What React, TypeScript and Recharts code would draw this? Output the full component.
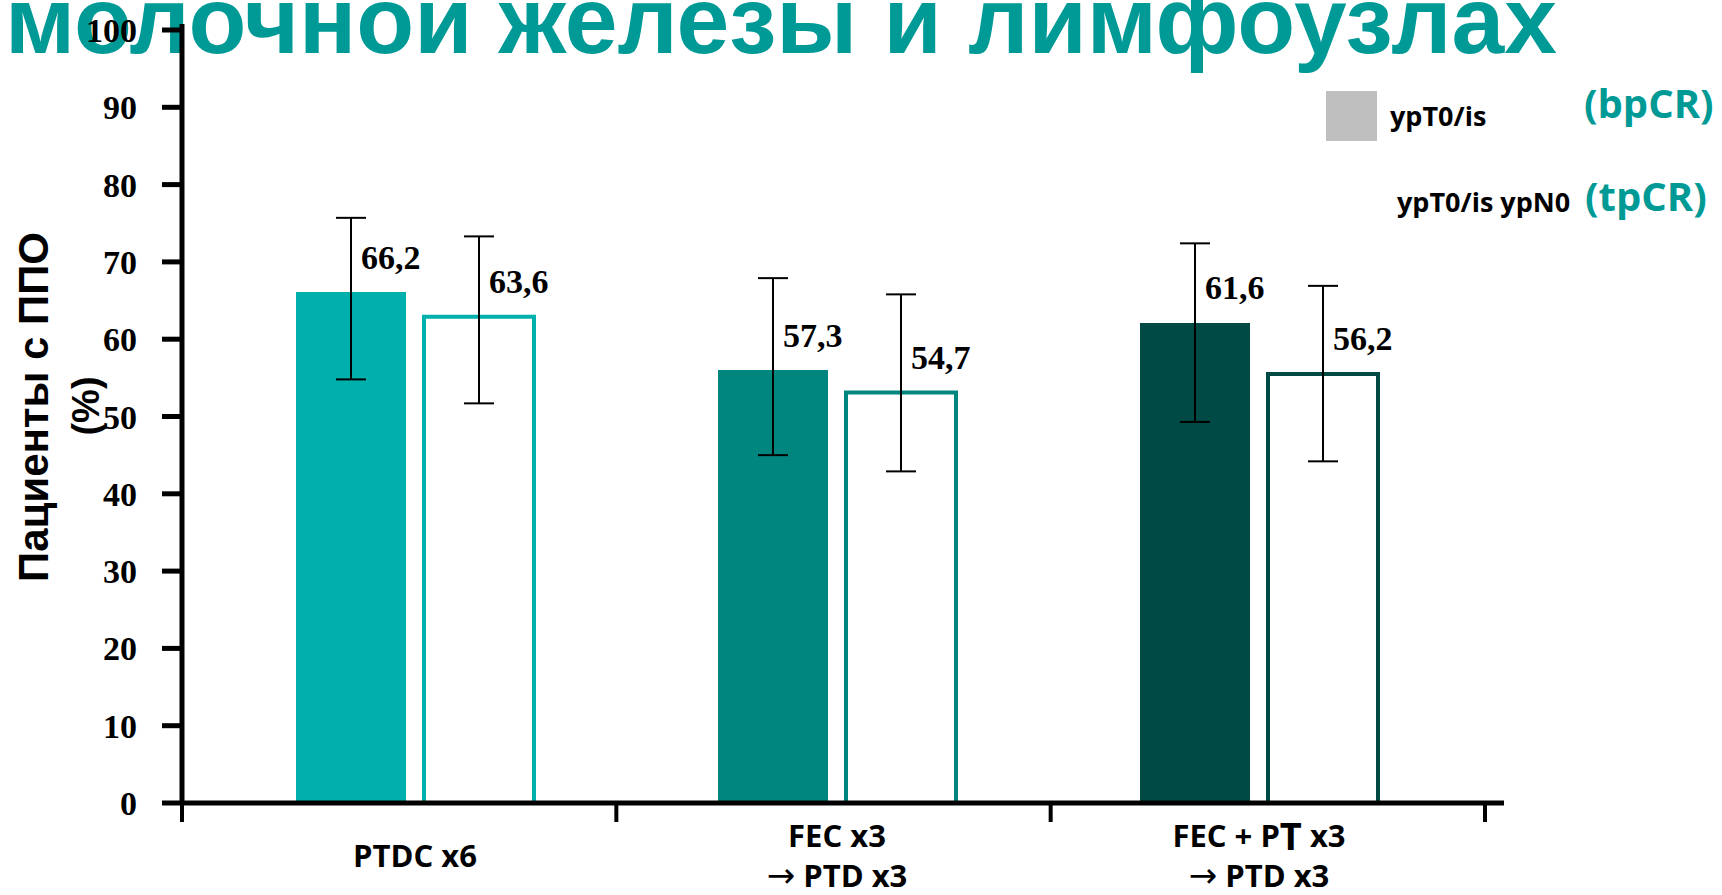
import { BarChart, Bar, XAxis, YAxis, ErrorBar, LabelList, Cell } from "recharts";

// Категории (группы терапии) и подписи под осью
const categories = ["PTDC x6", "FEC x3 → PTD x3", "FEC + PT x3 → PTD x3"];
const categoryLines = [["PTDC x6"], ["FEC x3", "→ PTD x3"], ["FEC + PT x3", "→ PTD x3"]];

// bpCR (залитые столбцы) и tpCR (контурные столбцы), высоты
const bpValues = [66.1, 56.0, 62.1];
const tpValues = [62.9, 53.1, 55.5];
const bpLabels = ["66,2", "57,3", "61,6"];
const tpLabels = ["63,6", "54,7", "56,2"];

// границы доверительных интервалов
const bpLow = [54.8, 45.0, 49.3];
const bpHigh = [75.7, 67.9, 72.4];
const tpLow = [51.7, 42.9, 44.2];
const tpHigh = [73.3, 65.8, 66.9];

const groupColors = ["#00B0AD", "#00857F", "#004A46"];
const yTicks = [0, 10, 20, 30, 40, 50, 60, 70, 80, 90, 100];

const title = "молочной железы и лимфоузлах";
const yLabel = ["Пациенты с ППО", "(%)"];
const legendLabels = ["ypT0/is", "ypT0/is ypN0"];
const legendTags = ["(bpCR)", "(tpCR)"];

const TEAL = "#009A96";
const SERIF = "'Liberation Serif', 'DejaVu Serif', serif";
const SANS = "'Open Sans', 'Noto Sans', sans-serif";
const ARIAL = "'Liberation Sans', Arial, sans-serif";

const data = categories.map((name, i) => ({
  name,
  bp: bpValues[i],
  tp: tpValues[i],
  bpLabel: bpLabels[i],
  tpLabel: tpLabels[i],
  bpErr: [bpValues[i] - bpLow[i], bpHigh[i] - bpValues[i]],
  tpErr: [tpValues[i] - tpLow[i], tpHigh[i] - tpValues[i]],
}));

function ValueLabel(props: any) {
  const { x, y, width, value } = props;
  return (
    <text
      x={Number(x) + Number(width) / 2 + 10}
      y={Number(y) - 35}
      dominantBaseline="central"
      fontFamily={SERIF}
      fontWeight={700}
      fontSize={34}
      fill="#000"
    >
      {value}
    </text>
  );
}

// риски на границах групп: слева от каждой полосы и справа у последней
function EdgeTick(props: any) {
  const { x, y, payload } = props;
  const half = Number(payload?.offset ?? 217);
  const idx = categories.indexOf(payload.value);
  const xs = [Number(x) - half];
  if (idx === categories.length - 1) xs.push(Number(x) + half);
  return (
    <g>
      {xs.map((tx, i) => (
        <line key={i} x1={tx} x2={tx} y1={Number(y)} y2={Number(y) + 19} stroke="#000" strokeWidth={4} />
      ))}
    </g>
  );
}

// разбивает строку на куски: стрелка другим шрифтом, «T» в «PT» крупнее
function renderLine(line: string) {
  const parts: any[] = [];
  let rest = line;
  if (rest.startsWith("→")) {
    parts.push(
      <tspan key="arr" fontFamily="'DejaVu Sans', sans-serif" fontWeight={400} fontSize={34}>
        {"→"}
      </tspan>
    );
    rest = rest.slice(1);
  }
  const m = rest.match(/^(.*\+ P)(T)( x3)$/);
  if (m) {
    parts.push(<tspan key="a">{m[1]}</tspan>);
    parts.push(
      <tspan key="b" fontSize={38}>
        {m[2]}
      </tspan>
    );
    parts.push(<tspan key="c">{m[3]}</tspan>);
  } else {
    parts.push(<tspan key="r">{rest}</tspan>);
  }
  return parts;
}

function CategoryTick(props: any) {
  const { x, y, payload } = props;
  const idx = categories.indexOf(payload.value);
  const lines = categoryLines[idx] || [];
  const step = 40;
  return (
    <g>
      {lines.map((line, i) => {
        const cy = Number(y) + 51 - ((lines.length - 1) / 2) * step + i * step;
        return (
          <text
            key={i}
            x={x}
            y={cy}
            textAnchor="middle"
            dominantBaseline="central"
            fontFamily={SANS}
            fontWeight={700}
            fontSize={31}
            fill="#000"
          >
            {renderLine(line)}
          </text>
        );
      })}
    </g>
  );
}

export default function App() {
  return (
    <div style={{ position: "absolute", left: 0, top: 0, width: 1722, height: 895, background: "#fff" }}>
      <svg width={1722} height={895} style={{ position: "absolute", left: 0, top: 0 }}>
        <text
          x={5}
          y={53}
          fontFamily={ARIAL}
          fontWeight={700}
          fontSize={95}
          fill={TEAL}
          textLength={1552}
          lengthAdjust="spacingAndGlyphs"
        >
          {title}
        </text>
        <text
          x={33}
          y={407}
          transform="rotate(-90 33 407)"
          textAnchor="middle"
          dominantBaseline="central"
          fontFamily={ARIAL}
          fontWeight={700}
          fontSize={42}
          fill="#000"
        >
          {yLabel[0]}
        </text>
        <text
          x={86}
          y={406}
          transform="rotate(-90 86 406)"
          textAnchor="middle"
          dominantBaseline="central"
          fontFamily={ARIAL}
          fontWeight={700}
          fontSize={38}
          fill="#000"
        >
          {yLabel[1]}
        </text>

        <rect x={1326} y={91} width={51} height={50} fill="#BFBFBF" />
        <text x={1390} y={115} dominantBaseline="central" fontFamily={SANS} fontWeight={700} fontSize={27} fill="#000">
          {legendLabels[0]}
        </text>
        <text x={1584} y={102} dominantBaseline="central" fontFamily={SANS} fontWeight={700} fontSize={40} fill={TEAL}>
          {legendTags[0]}
        </text>
        <text x={1397} y={201} dominantBaseline="central" fontFamily={SANS} fontWeight={700} fontSize={27} fill="#000">
          {legendLabels[1]}
        </text>
        <text x={1585} y={195} dominantBaseline="central" fontFamily={SANS} fontWeight={700} fontSize={40} fill={TEAL}>
          {legendTags[1]}
        </text>
      </svg>

      <div style={{ position: "absolute", left: 0, top: 0 }}>
        <BarChart
          width={1722}
          height={895}
          data={data}
          margin={{ top: 24, right: 218, bottom: 0, left: 82 }}
          barSize={110}
          barGap={18}
        >
          {/* ось 0: линия оси и риски на границах групп (ближе к графику) */}
          <XAxis
            xAxisId={0}
            dataKey="name"
            type="category"
            padding={{ left: 0, right: 19 }}
            height={1}
            interval={0}
            tickSize={0}
            tickMargin={0}
            tickLine={false}
            tick={<EdgeTick />}
            axisLine={{ stroke: "#000", strokeWidth: 5 }}
          />
          {/* ось 1: категории, подписи групп */}
          <XAxis
            xAxisId={1}
            dataKey="name"
            type="category"
            padding={{ left: 22, right: 34 }}
            height={91}
            axisLine={false}
            tickLine={false}
            tickSize={0}
            tickMargin={0}
            interval={0}
            tick={<CategoryTick />}
          />
          <YAxis
            type="number"
            domain={[0, 100]}
            ticks={yTicks}
            interval={0}
            width={100}
            padding={{ top: 6, bottom: 0 }}
            tickSize={20}
            tickMargin={25}
            axisLine={{ stroke: "#000", strokeWidth: 5 }}
            tickLine={{ stroke: "#000", strokeWidth: 5 }}
            tick={{ fontFamily: SERIF, fontWeight: 700, fontSize: 34, fill: "#000" }}
          />
          <Bar dataKey="bp" xAxisId={1} isAnimationActive={false}>
            {data.map((_, i) => (
              <Cell key={i} fill={groupColors[i]} />
            ))}
            <ErrorBar dataKey="bpErr" width={15} stroke="#000" strokeWidth={2} direction="y" isAnimationActive={false} />
            <LabelList dataKey="bpLabel" content={<ValueLabel />} />
          </Bar>
          <Bar dataKey="tp" xAxisId={1} isAnimationActive={false}>
            {data.map((_, i) => (
              <Cell key={i} fill="#FFFFFF" stroke={groupColors[i]} strokeWidth={4} />
            ))}
            <ErrorBar dataKey="tpErr" width={15} stroke="#000" strokeWidth={2} direction="y" isAnimationActive={false} />
            <LabelList dataKey="tpLabel" content={<ValueLabel />} />
          </Bar>
        </BarChart>
      </div>
    </div>
  );
}
